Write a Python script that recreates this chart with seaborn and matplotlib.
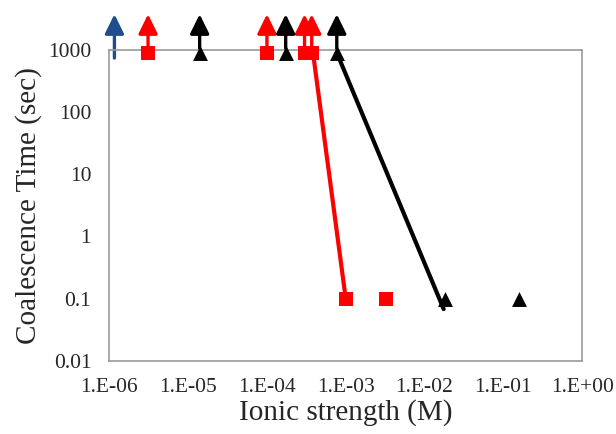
import matplotlib
matplotlib.use("Agg")
import matplotlib.pyplot as plt
import pandas as pd
import seaborn as sns

# ionic strength (M) vs coalescence time (sec); top row = no coalescence (arrow up)
red_x = [3.1e-6, 1.0e-4, 3.0e-4, 3.7e-4, 1.0e-3, 3.2e-3]
red_t = [900, 900, 900, 900, 0.1, 0.1]
black_x = [1.4e-5, 1.73e-4, 7.7e-4, 1.8e-2, 0.16]
black_t = [900, 900, 900, 0.1, 0.1]
blue_x = [1.16e-6]
blue_t = [740]

red_fit_x = [3.8e-4, 1.0e-3]
red_fit_t = [1000, 0.1]
black_fit_x = [7.7e-4, 1.75e-2]
black_fit_t = [900, 0.068]

x_ticks = [1e-6, 1e-5, 1e-4, 1e-3, 1e-2, 1e-1, 1e0]
x_labels = ["1.E-06", "1.E-05", "1.E-04", "1.E-03", "1.E-02", "1.E-01", "1.E+00"]
y_ticks = [0.01, 0.1, 1, 10, 100, 1000]
y_labels = ["0.01", "0.1", "1", "10", "100", "1000"]

RED = "#FF0000"
BLACK = "#000000"
BLUE = "#1F4E8C"
ARROW_TIP = 3750

sns.set_style("white")
plt.rcParams["font.family"] = ["Liberation Serif", "DejaVu Serif"]

fig = plt.figure(figsize=(6.16, 4.34), dpi=100)
ax = fig.add_axes([0.1775, 0.1685, 0.7675, 0.7165])
ax.set_xscale("log")
ax.set_yscale("log")
ax.set_xlim(1e-6, 1)
ax.set_ylim(0.01, 1000)


def up_arrow(x, y0, color):
    ax.annotate("", xy=(x, ARROW_TIP), xytext=(x, y0),
                arrowprops=dict(arrowstyle="-|>,head_length=0.65,head_width=0.32",
                                color=color, lw=2.4, mutation_scale=18,
                                shrinkA=0, shrinkB=0),
                annotation_clip=False, zorder=2)


for x, t in zip(blue_x, blue_t):
    up_arrow(x, t, BLUE)
for x, t in zip(red_x, red_t):
    if t > 100:
        up_arrow(x, t, RED)
for x, t in zip(black_x, black_t):
    if t > 100:
        up_arrow(x, 820, BLACK)

sns.lineplot(x=red_fit_x, y=red_fit_t, ax=ax, color=RED, lw=3, zorder=3)
sns.lineplot(x=black_fit_x, y=black_fit_t, ax=ax, color=BLACK, lw=3, zorder=3)

red_df = pd.DataFrame({"x": red_x, "t": red_t})
black_df = pd.DataFrame({"x": black_x, "t": black_t})
sns.scatterplot(data=red_df, x="x", y="t", ax=ax, marker="s", s=88,
                color=RED, edgecolor=RED, linewidth=0, zorder=4, clip_on=False)
sns.scatterplot(data=black_df, x="x", y="t", ax=ax, marker="^", s=115,
                color=BLACK, edgecolor=BLACK, linewidth=0, zorder=4, clip_on=False)

ax.set_xticks(x_ticks)
ax.set_xticklabels(x_labels)
ax.set_yticks(y_ticks)
ax.set_yticklabels(y_labels)
ax.minorticks_off()
ax.tick_params(axis="both", direction="in", length=5, width=1, color="#888888",
               labelsize=15.5)
ax.tick_params(axis="x", pad=12)
ax.tick_params(axis="y", pad=13)
for sp in ax.spines.values():
    sp.set_color("#999999")
    sp.set_linewidth(1.2)

ax.set_xlabel("Ionic strength (M)", fontsize=21, labelpad=2)
ax.set_ylabel("Coalescence Time (sec)", fontsize=21, labelpad=4)

fig.savefig("out.png", dpi=100)
